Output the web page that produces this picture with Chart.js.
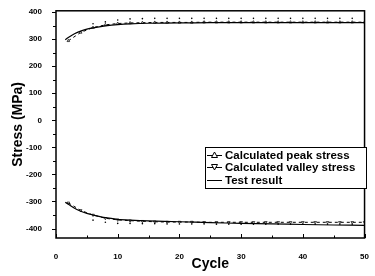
<!DOCTYPE html>
<html><head><meta charset="utf-8">
<script src="https://cdn.jsdelivr.net/npm/chart.js@4"></script>
<style>html,body{margin:0;padding:0;background:#fff}</style>
</head><body>
<canvas id="c" width="375" height="276"></canvas>
<script>
// ---- data ----
const testCycles = [1.5, 2, 3, 4, 5, 6, 8, 10, 12, 15, 20, 25, 30, 35, 40, 45, 50];
const testPeak   = [298, 306, 320, 330, 337, 342, 349, 354, 357, 359, 360, 361, 361, 361, 361, 361, 361];
const testValley = [-303, -310, -325, -336, -344, -350, -360, -366, -369, -372, -375, -378, -381, -383, -385, -387, -388];

const calcCycles = [2, 4, 6, 8, 10, 12, 14, 16, 18, 20, 22, 24, 26, 28, 30, 32, 34, 36, 38, 40, 42, 44, 46, 48, 50];
const calcPeak   = [294, 325, 343, 353, 358, 360, 361, 362, 362, 362, 362, 363, 363, 363, 363, 363, 363, 363, 363, 363, 363, 363, 363, 363, 363];
const calcValley = [-305, -333, -350, -362, -368, -371, -373, -375, -376, -376, -376, -377, -377, -377, -377, -377, -377, -377, -377, -377, -377, -377, -377, -377, -377];

const dotCycles = [6, 8, 10, 12, 14, 16, 18, 20, 22, 24, 26, 28, 30, 32, 34, 36, 38, 40, 42, 44, 46, 48];
const dotPeak   = [357, 364, 371, 375, 376, 377, 377, 377, 377, 377, 377, 377, 377, 377, 377, 377, 377, 377, 377, 377, 377, 377];
const dotValley = [-369, -377, -381, -381, -382, -382, -383, -383, -383, -383, -384, -384, -384, -384, -384, -384, -384, -384, -384, -384, -384, -384];

const xTickValues = [0, 10, 20, 30, 40, 50];
const yTickValues = [-400, -300, -200, -100, 0, 100, 200, 300, 400];
const legendLabels = ['Calculated peak stress', 'Calculated valley stress', 'Test result'];

const pts = (xs, ys) => xs.map((x, i) => ({x: x, y: ys[i]}));
const FONT = '"Liberation Sans", Arial, sans-serif';

const frameAndTicks = {
  id: 'frameAndTicks',
  afterDatasetsDraw(chart) {
    const {ctx, chartArea: a, scales} = chart;
    ctx.save();
    ctx.strokeStyle = '#000';
    ctx.lineWidth = 1.5;
    ctx.strokeRect(a.left, a.top, a.right - a.left, a.bottom - a.top);
    ctx.lineWidth = 1;
    // y ticks (outward)
    for (let v = -400; v <= 400; v += 50) {
      const y = Math.round(scales.y.getPixelForValue(v)) + 0.5;
      const len = (v % 100 === 0) ? 4 : 3;
      ctx.beginPath(); ctx.moveTo(a.left - len, y); ctx.lineTo(a.left, y); ctx.stroke();
    }
    // x ticks (inward)
    for (let v = 0; v <= 50; v += 5) {
      const x = Math.round(scales.x.getPixelForValue(v)) + 0.5;
      const len = (v % 10 === 0) ? 4 : 2.5;
      ctx.beginPath(); ctx.moveTo(x, a.bottom); ctx.lineTo(x, a.bottom - len); ctx.stroke();
    }
    // legend
    const bx = 205, by = 147, bw = 161, bh = 41;
    ctx.fillStyle = '#fff';
    ctx.fillRect(bx, by, bw, bh);
    ctx.lineWidth = 1;
    ctx.strokeRect(bx + 0.5, by + 0.5, bw, bh);
    const rows = [155, 167, 180];
    ctx.font = 'bold 11.5px ' + FONT;
    ctx.textBaseline = 'middle';
    ctx.textAlign = 'left';
    rows.forEach((ry, i) => {
      ctx.strokeStyle = '#000';
      ctx.lineWidth = 1;
      ctx.beginPath(); ctx.moveTo(207, ry + 0.5); ctx.lineTo(222, ry + 0.5); ctx.stroke();
      if (i < 2) {
        const cx = 214.5;
        ctx.fillStyle = '#fff';
        ctx.beginPath();
        if (i === 0) { ctx.moveTo(cx, ry - 3); ctx.lineTo(cx + 3, ry + 2.5); ctx.lineTo(cx - 3, ry + 2.5); }
        else { ctx.moveTo(cx, ry + 3); ctx.lineTo(cx + 3, ry - 2.5); ctx.lineTo(cx - 3, ry - 2.5); }
        ctx.closePath(); ctx.fill(); ctx.stroke();
      }
      ctx.fillStyle = '#000';
      ctx.fillText(legendLabels[i], 225, ry + 0.5);
    });
    ctx.restore();
  }
};

new Chart(document.getElementById('c'), {
  type: 'scatter',
  data: {
    datasets: [
      {label: 'Test result', data: pts(testCycles, testPeak), showLine: true, borderColor: '#000', borderWidth: 1.2, pointRadius: 0, tension: 0.3},
      {label: 'Test result (valley)', data: pts(testCycles, testValley), showLine: true, borderColor: '#000', borderWidth: 1.2, pointRadius: 0, tension: 0.3},
      {label: 'Calculated peak stress', data: pts(calcCycles, calcPeak), showLine: true, borderColor: '#000', borderWidth: 1, borderDash: [3, 3], pointStyle: 'triangle', pointRadius: 1.5, pointBackgroundColor: '#fff', pointBorderColor: '#000', pointBorderWidth: 0.7},
      {label: 'Calculated valley stress', data: pts(calcCycles, calcValley), showLine: true, borderColor: '#000', borderWidth: 1, borderDash: [3, 3], pointStyle: 'triangle', rotation: 180, pointRadius: 1.5, pointBackgroundColor: '#fff', pointBorderColor: '#000', pointBorderWidth: 0.7},
      {label: 'dots peak', data: pts(dotCycles, dotPeak), showLine: false, pointRadius: 0.8, pointBackgroundColor: '#000', pointBorderWidth: 0},
      {label: 'dots valley', data: pts(dotCycles, dotValley), showLine: false, pointRadius: 0.8, pointBackgroundColor: '#000', pointBorderWidth: 0}
    ]
  },
  options: {
    responsive: false,
    animation: false,
    devicePixelRatio: 1,
    layout: {padding: {top: 10, right: 7, left: 0, bottom: 0}},
    plugins: {legend: {display: false}, tooltip: {enabled: false}},
    scales: {
      x: {
        type: 'linear', min: 0, max: 50,
        grid: {display: false}, border: {display: false},
        afterBuildTicks: s => { s.ticks = xTickValues.map(v => ({value: v})); },
        afterFit: s => { s.height = 38; },
        ticks: {color: '#000', padding: 6, maxRotation: 0, font: {family: FONT, size: 8, weight: 'bold'}},
        title: {display: true, text: 'Cycle', color: '#000', padding: {top: 0, bottom: 3}, font: {family: FONT, size: 14, weight: 'bold'}}
      },
      y: {
        type: 'linear', min: -435, max: 405,
        grid: {display: false}, border: {display: false},
        afterBuildTicks: s => { s.ticks = yTickValues.map(v => ({value: v})); },
        afterFit: s => { s.width = 56; },
        ticks: {color: '#000', padding: 6, font: {family: FONT, size: 8, weight: 'bold'}},
        title: {display: true, text: 'Stress (MPa)', color: '#000', padding: {top: 10, bottom: 0}, font: {family: FONT, size: 14, weight: 'bold'}}
      }
    }
  },
  plugins: [frameAndTicks]
});
</script>
</body></html>
